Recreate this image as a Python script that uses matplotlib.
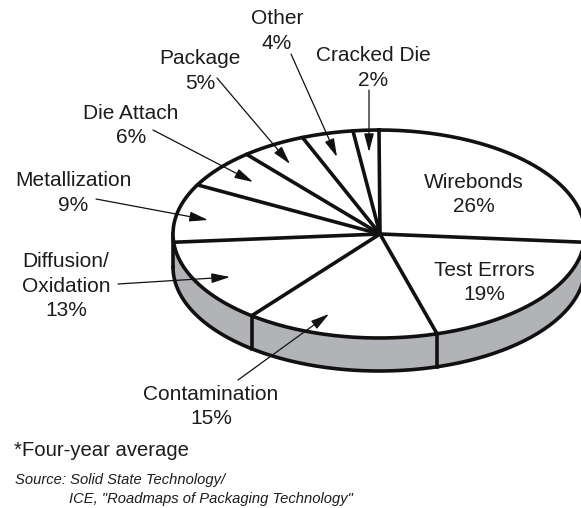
import numpy as np
import matplotlib
matplotlib.use("Agg")
import matplotlib.pyplot as plt

plt.rcParams['font.family'] = ['Liberation Sans', 'DejaVu Sans']

categories = ["Wirebonds", "Test Errors", "Contamination", "Diffusion/\nOxidation",
              "Metallization", "Die Attach", "Package", "Other", "Cracked Die"]
shares = [26, 19, 15, 13, 9, 6, 5, 4, 2]

# label centre (px) for every category, in the same order
label_xy = [(474, 194.5), (484, 282.5), (211, 406.5), (66, 286),
            (73, 193), (131, 125.5), (200, 71), (277, 31), (373, 68)]
# leader arrows: (start, tip); None where the label sits inside its slice
arrows = [None, None,
          ((238, 380), (329, 314)),
          ((118, 284), (230, 277)),
          ((96, 199), (208, 220)),
          ((153, 130), (253, 182)),
          ((217, 78), (290, 164)),
          ((291, 54), (337, 157)),
          ((369, 90), (369, 152))]

CX, CY, RX, RY, DEPTH = 379, 234, 206, 104, 33
INK = "#111111"
TXT = "#1c1c1c"
SIDE = "#b1b3b6"
LW = 2.6

fig = plt.figure(figsize=(5.81, 5.08), dpi=100)
ax = fig.add_axes([0, 0, 1, 1])
ax.set_xlim(0, 581)
ax.set_ylim(508, 0)
ax.axis("off")


def rim(theta):
    """Point on the projected rim; theta is degrees clockwise from 12 o'clock."""
    t = np.radians(theta)
    return CX + RX * np.sin(t), CY - RY * np.cos(t)


total = sum(shares)
edges = 360 * np.cumsum(shares) / total

# visible side wall: lower half of the rim extruded downward
t_side = np.linspace(90, 270, 200)
xs, ys = rim(t_side)
ax.fill(np.r_[xs, xs[::-1]], np.r_[ys, ys[::-1] + DEPTH], fc=SIDE, ec="none", zorder=1)
ax.plot(xs, ys + DEPTH, color=INK, lw=LW, zorder=2)
lx, ly = rim(270)
ax.plot([lx, lx], [ly, ly + DEPTH], color=INK, lw=LW, zorder=2)
rx_, ry_ = rim(90)
ax.plot([rx_, rx_], [ry_, ry_ + DEPTH], color=INK, lw=LW, zorder=2)

# top face
t_all = np.linspace(0, 360, 500)
xa, ya = rim(t_all)
ax.fill(xa, ya, fc="white", ec="none", zorder=3)
ax.plot(xa, ya, color=INK, lw=LW, zorder=5)

# slice spokes and wall seams
for e in edges:
    x, y = rim(e)
    ax.plot([CX + 1, x], [CY, y], color=INK, lw=LW, solid_capstyle="round", zorder=4)
    if 100 < e < 260:
        ax.plot([x, x], [y, y + DEPTH], color=INK, lw=LW, zorder=2)

# labels
for name, share, (x, y) in zip(categories, shares, label_xy):
    ax.text(x, y, f"{name}\n{share}%", ha="center", va="center", fontsize=15,
            color=TXT, linespacing=1.36, zorder=7)

# leader arrows
for a in arrows:
    if a is None:
        continue
    ax.annotate("", xy=a[1], xytext=a[0], zorder=6,
                arrowprops=dict(arrowstyle="-|>,head_length=0.75,head_width=0.2",
                                mutation_scale=15, lw=0.9, color=INK,
                                shrinkA=0, shrinkB=0))

ax.text(14, 450, "*Four-year average", ha="left", va="center", fontsize=14.6, color=TXT)
ax.text(15, 480, "Source: Solid State Technology/", ha="left", va="center",
        fontsize=10.6, style="italic", color=TXT)
ax.text(69, 499, "ICE, \"Roadmaps of Packaging Technology\"", ha="left", va="center",
        fontsize=10.6, style="italic", color=TXT)

fig.savefig("out.png", dpi=100)
